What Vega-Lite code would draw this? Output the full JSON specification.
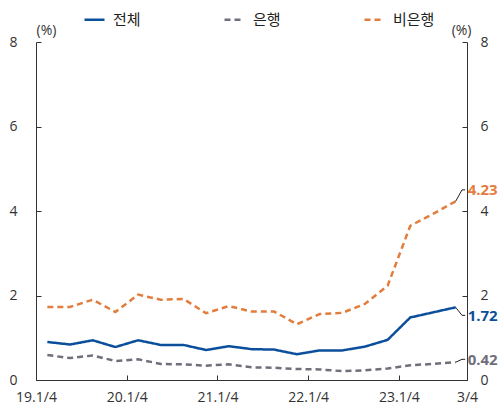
{
  "$schema": "https://vega.github.io/schema/vega-lite/v6.json",
  "width": 431,
  "height": 338,
  "autosize": {"type": "none"},
  "padding": {"left": 36, "top": 42, "right": 33, "bottom": 31},
  "background": "white",
  "config": {
    "view": {"stroke": null},
    "font": "Open Sans",
    "axis": {
      "grid": false,
      "domainColor": "#333333",
      "tickColor": "#333333",
      "labelColor": "#333333",
      "labelFont": "Open Sans",
      "labelFontSize": 14,
      "titleFont": "Open Sans",
      "titleFontSize": 14,
      "titleFontWeight": "normal",
      "titleColor": "#333333",
      "tickSize": -5
    }
  },
  "datasets": {
    "rates": [
      {"period": "19.1Q", "q": 0.5, "series": "전체", "value": 0.90},
      {"period": "19.2Q", "q": 1.5, "series": "전체", "value": 0.84},
      {"period": "19.3Q", "q": 2.5, "series": "전체", "value": 0.94},
      {"period": "19.4Q", "q": 3.5, "series": "전체", "value": 0.78},
      {"period": "20.1Q", "q": 4.5, "series": "전체", "value": 0.94},
      {"period": "20.2Q", "q": 5.5, "series": "전체", "value": 0.83},
      {"period": "20.3Q", "q": 6.5, "series": "전체", "value": 0.83},
      {"period": "20.4Q", "q": 7.5, "series": "전체", "value": 0.71},
      {"period": "21.1Q", "q": 8.5, "series": "전체", "value": 0.80},
      {"period": "21.2Q", "q": 9.5, "series": "전체", "value": 0.73},
      {"period": "21.3Q", "q": 10.5, "series": "전체", "value": 0.72},
      {"period": "21.4Q", "q": 11.5, "series": "전체", "value": 0.61},
      {"period": "22.1Q", "q": 12.5, "series": "전체", "value": 0.70},
      {"period": "22.2Q", "q": 13.5, "series": "전체", "value": 0.70},
      {"period": "22.3Q", "q": 14.5, "series": "전체", "value": 0.79},
      {"period": "22.4Q", "q": 15.5, "series": "전체", "value": 0.95},
      {"period": "23.1Q", "q": 16.5, "series": "전체", "value": 1.48},
      {"period": "23.2Q", "q": 17.5, "series": "전체", "value": 1.60},
      {"period": "23.3Q", "q": 18.5, "series": "전체", "value": 1.72},
      {"period": "19.1Q", "q": 0.5, "series": "은행", "value": 0.59},
      {"period": "19.2Q", "q": 1.5, "series": "은행", "value": 0.52},
      {"period": "19.3Q", "q": 2.5, "series": "은행", "value": 0.58},
      {"period": "19.4Q", "q": 3.5, "series": "은행", "value": 0.45},
      {"period": "20.1Q", "q": 4.5, "series": "은행", "value": 0.49},
      {"period": "20.2Q", "q": 5.5, "series": "은행", "value": 0.38},
      {"period": "20.3Q", "q": 6.5, "series": "은행", "value": 0.37},
      {"period": "20.4Q", "q": 7.5, "series": "은행", "value": 0.34},
      {"period": "21.1Q", "q": 8.5, "series": "은행", "value": 0.37},
      {"period": "21.2Q", "q": 9.5, "series": "은행", "value": 0.30},
      {"period": "21.3Q", "q": 10.5, "series": "은행", "value": 0.29},
      {"period": "21.4Q", "q": 11.5, "series": "은행", "value": 0.26},
      {"period": "22.1Q", "q": 12.5, "series": "은행", "value": 0.25},
      {"period": "22.2Q", "q": 13.5, "series": "은행", "value": 0.21},
      {"period": "22.3Q", "q": 14.5, "series": "은행", "value": 0.23},
      {"period": "22.4Q", "q": 15.5, "series": "은행", "value": 0.27},
      {"period": "23.1Q", "q": 16.5, "series": "은행", "value": 0.35},
      {"period": "23.2Q", "q": 17.5, "series": "은행", "value": 0.38},
      {"period": "23.3Q", "q": 18.5, "series": "은행", "value": 0.42},
      {"period": "19.1Q", "q": 0.5, "series": "비은행", "value": 1.73},
      {"period": "19.2Q", "q": 1.5, "series": "비은행", "value": 1.73},
      {"period": "19.3Q", "q": 2.5, "series": "비은행", "value": 1.90},
      {"period": "19.4Q", "q": 3.5, "series": "비은행", "value": 1.61},
      {"period": "20.1Q", "q": 4.5, "series": "비은행", "value": 2.02},
      {"period": "20.2Q", "q": 5.5, "series": "비은행", "value": 1.90},
      {"period": "20.3Q", "q": 6.5, "series": "비은행", "value": 1.92},
      {"period": "20.4Q", "q": 7.5, "series": "비은행", "value": 1.58},
      {"period": "21.1Q", "q": 8.5, "series": "비은행", "value": 1.75},
      {"period": "21.2Q", "q": 9.5, "series": "비은행", "value": 1.62},
      {"period": "21.3Q", "q": 10.5, "series": "비은행", "value": 1.62},
      {"period": "21.4Q", "q": 11.5, "series": "비은행", "value": 1.32},
      {"period": "22.1Q", "q": 12.5, "series": "비은행", "value": 1.56},
      {"period": "22.2Q", "q": 13.5, "series": "비은행", "value": 1.59},
      {"period": "22.3Q", "q": 14.5, "series": "비은행", "value": 1.80},
      {"period": "22.4Q", "q": 15.5, "series": "비은행", "value": 2.23},
      {"period": "23.1Q", "q": 16.5, "series": "비은행", "value": 3.65},
      {"period": "23.2Q", "q": 17.5, "series": "비은행", "value": 3.93},
      {"period": "23.3Q", "q": 18.5, "series": "비은행", "value": 4.23}
    ],
    "leaders": [
      {"series": "비은행", "step": 1, "q": 18.5, "value": 4.23},
      {"series": "비은행", "step": 2, "q": 18.78, "value": 4.5},
      {"series": "비은행", "step": 3, "q": 18.92, "value": 4.5},
      {"series": "전체", "step": 1, "q": 18.5, "value": 1.72},
      {"series": "전체", "step": 2, "q": 18.78, "value": 1.53},
      {"series": "전체", "step": 3, "q": 18.92, "value": 1.53},
      {"series": "은행", "step": 1, "q": 18.5, "value": 0.42},
      {"series": "은행", "step": 2, "q": 18.78, "value": 0.49},
      {"series": "은행", "step": 3, "q": 18.92, "value": 0.49}
    ],
    "ends": [
      {"series": "비은행", "q": 19.03, "value": 4.5, "label": "4.23"},
      {"series": "전체", "q": 19.03, "value": 1.52, "label": "1.72"},
      {"series": "은행", "q": 19.03, "value": 0.47, "label": "0.42"}
    ]
  },
  "layer": [
    {
      "data": {"name": "rates"},
      "mark": {"type": "line", "strokeWidth": 2.5},
      "encoding": {
        "x": {
          "field": "q",
          "type": "quantitative",
          "scale": {"domain": [0, 19], "nice": false, "zero": false},
          "axis": {
            "title": null,
            "values": [0, 4, 8, 12, 16, 19],
            "labelExpr": "datum.value == 0 ? '19.1/4' : datum.value == 4 ? '20.1/4' : datum.value == 8 ? '21.1/4' : datum.value == 12 ? '22.1/4' : datum.value == 16 ? '23.1/4' : '3/4'",
            "labelFlush": false,
            "labelPadding": 15,
            "labelAlign": "center"
          }
        },
        "y": {
          "field": "value",
          "type": "quantitative",
          "scale": {"domain": [0, 8], "nice": false},
          "axis": {
            "orient": "left",
            "values": [0, 2, 4, 6, 8],
            "title": "(%)",
            "titleAngle": 0,
            "titleAlign": "left",
            "titleBaseline": "alphabetic",
            "titleX": 0,
            "titleY": -8,
            "labelPadding": 24
          }
        },
        "color": {
          "field": "series",
          "type": "nominal",
          "scale": {"domain": ["전체", "은행", "비은행"], "range": ["#0B4F9C", "#6E6F7A", "#E27D3D"]},
          "legend": {
            "title": null,
            "orient": "none",
            "legendX": 47,
            "legendY": -34,
            "direction": "horizontal",
            "symbolType": "stroke",
            "symbolSize": 400,
            "symbolStrokeWidth": 2.5,
            "labelFont": "Noto Sans CJK KR",
            "labelFontSize": 15,
            "labelColor": "#222222",
            "labelOffset": 7,
            "columnPadding": 78
          }
        },
        "strokeDash": {
          "field": "series",
          "type": "nominal",
          "scale": {"domain": ["전체", "은행", "비은행"], "range": [[1, 0], [6, 4], [6, 4]]},
          "legend": {
            "title": null,
            "orient": "none",
            "legendX": 47,
            "legendY": -34,
            "direction": "horizontal",
            "symbolType": "stroke",
            "symbolSize": 400,
            "symbolStrokeWidth": 2.5,
            "labelFont": "Noto Sans CJK KR",
            "labelFontSize": 15,
            "labelColor": "#222222",
            "labelOffset": 7,
            "columnPadding": 78
          }
        }
      }
    },
    {
      "data": {"name": "leaders"},
      "mark": {"type": "line", "color": "#222222", "strokeWidth": 1},
      "encoding": {
        "x": {"field": "q", "type": "quantitative"},
        "y": {
          "field": "value",
          "type": "quantitative",
          "scale": {"domain": [0, 8], "nice": false},
          "axis": {
            "orient": "right",
            "values": [0, 2, 4, 6, 8],
            "title": "(%)",
            "titleAngle": 0,
            "titleAlign": "right",
            "titleBaseline": "alphabetic",
            "titleX": 4,
            "titleY": -8,
            "labelPadding": 18
          }
        },
        "detail": {"field": "series"},
        "order": {"field": "step"}
      }
    },
    {
      "data": {"name": "ends"},
      "mark": {"type": "text", "align": "left", "baseline": "middle", "fontWeight": "bold", "fontSize": 15, "font": "Open Sans"},
      "encoding": {
        "x": {"field": "q", "type": "quantitative"},
        "y": {
          "field": "value",
          "type": "quantitative",
          "scale": {"domain": [0, 8], "nice": false},
          "axis": null
        },
        "text": {"field": "label"},
        "color": {"field": "series", "type": "nominal"}
      }
    }
  ],
  "resolve": {"scale": {"y": "independent"}}
}
